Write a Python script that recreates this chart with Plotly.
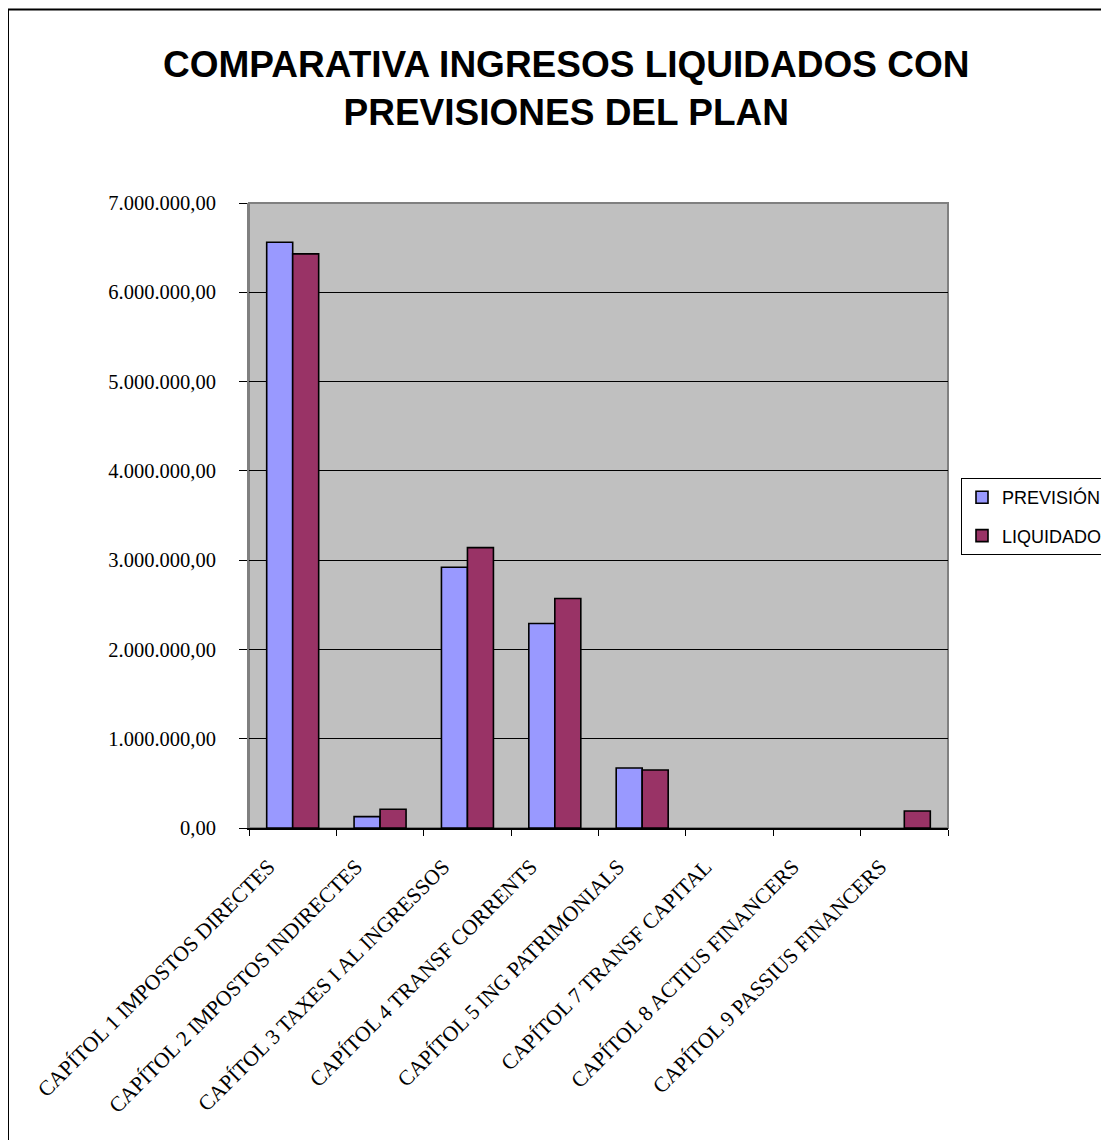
import plotly.graph_objects as go

categories = [
    "CAPÍTOL 1 IMPOSTOS DIRECTES",
    "CAPÍTOL 2 IMPOSTOS INDIRECTES",
    "CAPÍTOL 3 TAXES I AL INGRESSOS",
    "CAPÍTOL 4 TRANSF CORRENTS",
    "CAPÍTOL 5 ING PATRIMONIALS",
    "CAPÍTOL 7 TRANSF CAPITAL",
    "CAPÍTOL 8 ACTIUS FINANCERS",
    "CAPÍTOL 9 PASSIUS FINANCERS",
]
prevision = [6560000, 127000, 2920000, 2290000, 672000, 0, 0, 0]
liquidado = [6430000, 210000, 3140000, 2570000, 650000, 0, 0, 190000]
series_names = ["PREVISIÓN", "LIQUIDADO"]
title_text = "COMPARATIVA INGRESOS LIQUIDADOS CON<br>PREVISIONES DEL PLAN"

# page has an 8px body margin; work in screen coords and convert
OFF = 8
W, H = 1109 - OFF, 1140 - OFF
L, R, T, B = 249 - OFF, 948 - OFF, 203 - OFF, 828 - OFF

def px(x):
    return (x - OFF - L) / (R - L)

def py(y):
    return (B - (y - OFF)) / (B - T)

def outline(vals):
    return [1.6 if v else 0 for v in vals]

fig = go.Figure()
fig.add_trace(go.Bar(x=categories, y=prevision, name=series_names[0], legendgroup="a",
                     marker=dict(color="#9999FF",
                                 line=dict(color="black", width=outline(prevision)))))
fig.add_trace(go.Bar(x=categories, y=liquidado, name=series_names[1], legendgroup="b",
                     marker=dict(color="#993366",
                                 line=dict(color="black", width=outline(liquidado)))))

fig.update_layout(
    width=W, height=H,
    margin=dict(l=L, r=W - R, t=T, b=H - B, autoexpand=False),
    paper_bgcolor="white",
    plot_bgcolor="#C0C0C0",
    barmode="group",
    bargap=0.405,
    bargroupgap=0,
    separators=",.",
    showlegend=True,
    legend=dict(
        x=px(961), y=py(478), xanchor="left", yanchor="top",
        bordercolor="black", borderwidth=1, bgcolor="white",
        font=dict(family="Liberation Sans, Arial", size=18, color="black"),
        itemwidth=30, tracegroupgap=12,
    ),
    annotations=[dict(
        text=title_text, xref="paper", yref="paper",
        x=px(566), y=py(88.5), xanchor="center", yanchor="middle",
        showarrow=False,
        font=dict(family="Liberation Sans, Arial", size=37, color="black", weight="bold"),
    )],
    shapes=[
        dict(type="rect", xref="paper", yref="paper",
             x0=px(8), x1=px(1125), y0=py(1155), y1=py(9.5),
             line=dict(color="black", width=2), fillcolor="rgba(0,0,0,0)", layer="above"),
        dict(type="rect", xref="paper", yref="paper",
             x0=0, x1=1, y0=0, y1=1,
             line=dict(color="#808080", width=2), fillcolor="rgba(0,0,0,0)", layer="below"),
    ],
)

fig.update_yaxes(
    range=[0, 7000000], dtick=1000000, tick0=0,
    tickformat=",.2f",
    showgrid=True, gridcolor="black", gridwidth=1,
    zeroline=False,
    showline=True, linecolor="#808080", linewidth=2,
    ticks="outside", ticklen=8, tickcolor="black", tickwidth=1,
    ticklabelstandoff=19,
    tickfont=dict(family="Liberation Serif, Times New Roman", size=20.5, color="black"),
)
fig.update_xaxes(
    type="category",
    tickangle=-45,
    tickson="boundaries",
    ticks="outside", ticklen=6, tickcolor="black", tickwidth=1,
    ticklabelstandoff=16, ticklabelshift=-24,
    showline=True, linecolor="black", linewidth=1.5,
    showgrid=False,
    tickfont=dict(family="Liberation Serif, Times New Roman", size=21.5, color="black"),
)

fig.write_html("out.html")
